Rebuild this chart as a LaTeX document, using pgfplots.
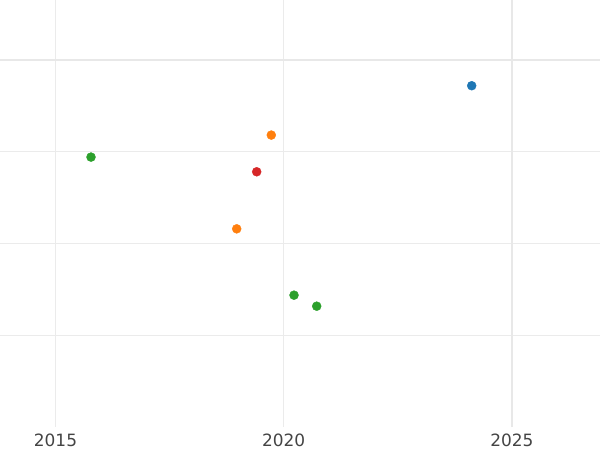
\documentclass[border=0pt]{standalone}
\usepackage{pgfplots}
\pgfplotsset{compat=1.18}
\usepackage{fontspec}
\setmainfont{DejaVu Sans}
\definecolor{cblue}{HTML}{1F77B4}
\definecolor{corange}{HTML}{FF7F0E}
\definecolor{cgreen}{HTML}{2CA02C}
\definecolor{cred}{HTML}{D62728}
\definecolor{gridc}{HTML}{EBEBEB}
\definecolor{zeroc}{HTML}{E8E8E8}
\definecolor{tickc}{HTML}{444444}
\begin{document}
\begin{tikzpicture}
\useasboundingbox (0bp,-23bp) rectangle (600bp,427bp);
\begin{axis}[
  at={(0bp,0bp)}, anchor=south west,
  scale only axis, width=600bp, height=427bp,
  xmin=2013.784, xmax=2026.93,
  ymin=-4, ymax=0.6545,
  axis line style={draw=none},
  tick style={draw=none},
  xtick={2015,2020,2025},
  ytick={-3,-2,-1,0},
  yticklabels={},
  xticklabel style={font=\fontsize{17}{20}\selectfont, text=tickc, yshift=-3bp},
  /pgf/number format/assume math mode=true,
  /pgf/number format/1000 sep={},
  grid=major,
  major grid style={gridc, line width=1bp},
  extra x ticks={2025}, extra x tick labels={},
  extra x tick style={major grid style={zeroc, line width=2bp}},
  extra y ticks={0}, extra y tick labels={},
  extra y tick style={major grid style={zeroc, line width=2bp}},
  clip=false,
]
\addplot[only marks, mark=*, mark size=4.5bp, mark options={draw=cgreen, fill=cgreen}] coordinates {
  (2015.778,-1.058) (2020.226,-2.563) (2020.723,-2.683)};
\addplot[only marks, mark=*, mark size=4.5bp, mark options={draw=corange, fill=corange}] coordinates {
  (2019.728,-0.818) (2018.970,-1.840)};
\addplot[only marks, mark=*, mark size=4.5bp, mark options={draw=cred, fill=cred}] coordinates {
  (2019.408,-1.218)};
\addplot[only marks, mark=*, mark size=4.5bp, mark options={draw=cblue, fill=cblue}] coordinates {
  (2024.119,-0.280)};
\end{axis}
\end{tikzpicture}
\end{document}
